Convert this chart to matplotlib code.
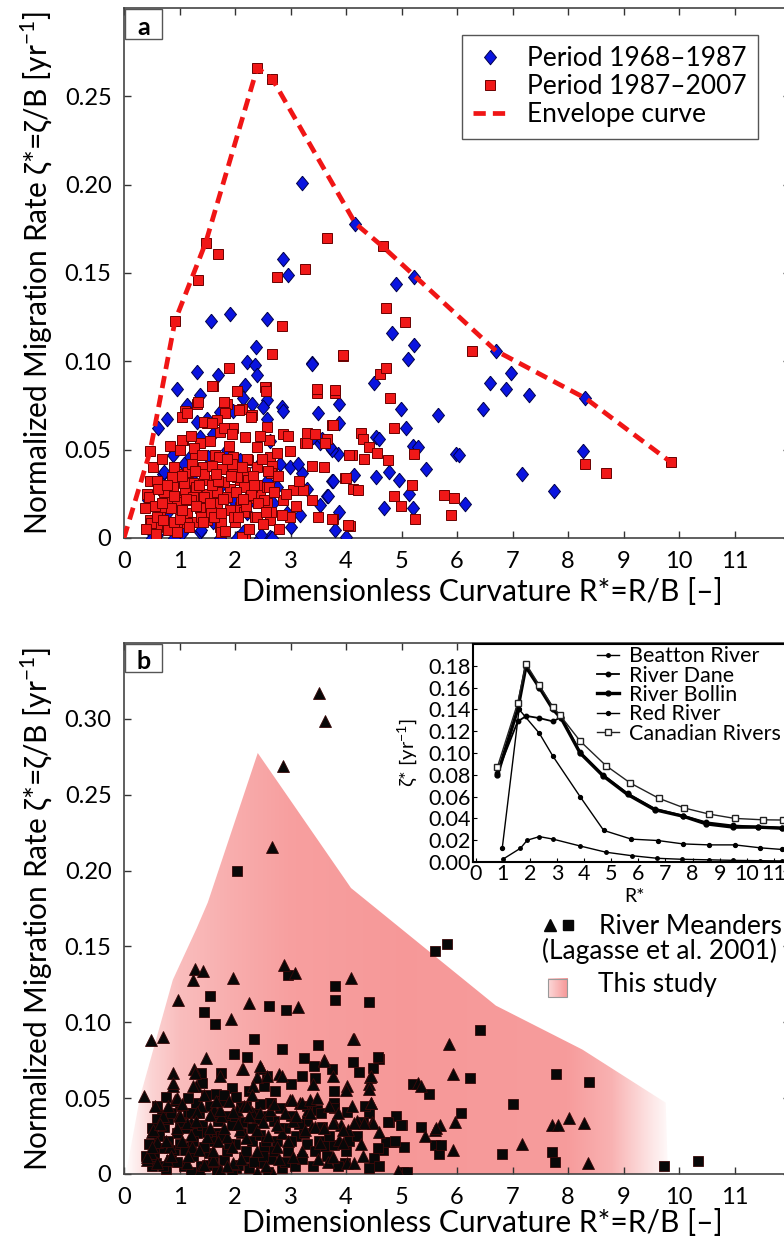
import numpy as np
import matplotlib.pyplot as plt
from matplotlib.patches import Polygon, Rectangle
from matplotlib.ticker import FixedLocator, FixedFormatter

plt.rcParams['font.family'] = ['Lato', 'DejaVu Sans']

# ---------------- panel a: migration rate vs curvature ----------------
# (R*, zeta*) pairs, period 1968-1987
period1_pts = np.array([
    [3.2, 0.201], [4.17, 0.178], [2.87, 0.158], [2.96, 0.149], [5.23, 0.148], [4.9, 0.144],
    [2.57, 0.124], [4.83, 0.116], [5.22, 0.109], [5.11, 0.1015], [3.38, 0.099], [4.51, 0.088],
    [3.88, 0.076], [3.5, 0.071], [2.84, 0.074], [4.99, 0.073], [5.65, 0.0695], [5.08, 0.0625],
    [3.88, 0.065], [4.54, 0.057], [5.2, 0.052], [5.29, 0.0516], [5.98, 0.0475], [5.44, 0.039],
    [4.54, 0.0346], [4.78, 0.0375], [4.96, 0.033], [4.15, 0.0356], [5.14, 0.025], [4.69, 0.017],
    [5.2, 0.017], [3.65, 0.024], [3.74, 0.032], [3.53, 0.0186], [3.88, 0.015], [3.8, 0.0045],
    [4.0, 0.0007], [2.63, 0.0007], [3.85, 0.0475], [3.53, 0.0535], [3.74, 0.050], [3.17, 0.013],
    [6.46, 0.073], [6.6, 0.088], [6.88, 0.0846], [6.97, 0.0936], [7.29, 0.081], [6.7, 0.106],
    [8.3, 0.079], [8.27, 0.049], [7.18, 0.036], [7.75, 0.0266], [6.03, 0.047], [6.15, 0.019],
    [4.6, 0.056],
    [1.56, 0.123], [1.91, 0.127], [2.37, 0.108], [2.21, 0.0996], [2.36, 0.0977], [2.39, 0.092],
    [1.7, 0.092], [1.31, 0.094], [0.95, 0.0846], [2.18, 0.0864], [1.37, 0.081], [2.57, 0.078],
    [2.5, 0.074], [2.86, 0.072], [0.77, 0.0676], [0.62, 0.062], [1.13, 0.075], [3.38, 0.0987],
    [0.86, 0.0507], [0.89, 0.047], [1.1, 0.041], [1.25, 0.0365], [1.37, 0.057], [1.61, 0.059],
    [1.97, 0.072], [2.15, 0.079], [2.3, 0.076], [2.57, 0.0676], [2.63, 0.055], [2.81, 0.042],
    [2.99, 0.040], [3.2, 0.0366], [3.13, 0.042], [3.4, 0.057], [3.56, 0.056], [3.71, 0.0516],
    [3.76, 0.032], [3.67, 0.024], [2.66, 0.0], [2.45, 0.0], [2.03, 0.0], [1.73, 0.0],
    [2.15, 0.0036], [0.5, 0.0027], [0.59, 0.0017], [1.04, 0.0027], [1.37, 0.0036], [0.71, 0.0365],
    [0.95, 0.032], [1.19, 0.046], [1.52, 0.046], [1.85, 0.050], [2.09, 0.044], [2.39, 0.040],
    [1.73, 0.029], [1.46, 0.0215], [1.97, 0.0215], [2.21, 0.014], [2.69, 0.0196], [2.75, 0.029],
    [2.93, 0.014], [1.1, 0.014], [0.77, 0.014], [0.44, 0.0215], [1.61, 0.0092], [2.33, 0.0215],
    [2.57, 0.032], [1.31, 0.0657], [1.49, 0.0676], [1.73, 0.0714], [0.72, 0.0375], [1.08, 0.042],
    [1.38, 0.0045], [2.46, 0.0017], [0.5, 0.0], [0.9, 0.0], [3.0, 0.0065], [3.3, 0.028],
])

# period 1987-2007
period2_pts = np.array([
    [2.4, 0.266], [2.67, 0.260], [1.47, 0.167], [1.7, 0.161], [1.34, 0.146], [2.75, 0.148],
    [3.26, 0.152], [3.65, 0.170], [4.66, 0.165], [0.92, 0.123], [0.47, 0.049], [2.84, 0.120],
    [2.66, 0.104], [3.94, 0.103], [4.72, 0.130], [5.07, 0.122], [4.62, 0.093], [4.72, 0.096],
    [4.8, 0.0795], [3.47, 0.082], [3.81, 0.082], [2.55, 0.0855], [3.75, 0.064], [4.87, 0.0625],
    [4.27, 0.0595], [4.3, 0.0558], [4.42, 0.0516], [4.56, 0.048], [4.75, 0.044], [5.22, 0.0475],
    [4.1, 0.047], [4.32, 0.045], [3.65, 0.0558], [3.3, 0.0595], [3.26, 0.0535], [3.38, 0.041],
    [3.99, 0.034], [4.12, 0.028], [5.19, 0.030], [4.87, 0.024], [4.99, 0.018], [5.25, 0.011],
    [3.76, 0.011], [4.08, 0.007], [5.77, 0.0245], [5.95, 0.0224], [5.89, 0.013], [6.27, 0.106],
    [8.3, 0.042], [8.68, 0.037], [9.85, 0.043], [4.21, 0.027], [4.03, 0.0073],
    [1.9, 0.096], [1.61, 0.086], [2.03, 0.083], [2.54, 0.0855], [2.55, 0.083], [1.31, 0.076],
    [1.1, 0.072], [1.04, 0.0685], [1.85, 0.076], [1.82, 0.071], [1.49, 0.065], [1.67, 0.0667],
    [1.97, 0.062], [2.12, 0.073], [2.3, 0.0695], [2.57, 0.063], [2.39, 0.0516], [2.18, 0.057],
    [1.73, 0.060], [1.37, 0.0535], [1.07, 0.0554], [1.01, 0.050], [1.28, 0.047], [1.64, 0.047],
    [1.97, 0.046], [2.24, 0.044], [2.63, 0.046], [2.66, 0.041], [2.87, 0.059], [2.96, 0.058],
    [2.99, 0.049], [3.29, 0.054], [3.44, 0.059], [3.47, 0.0846], [3.8, 0.0836], [3.95, 0.1034],
    [3.62, 0.0535], [3.76, 0.064], [4.06, 0.047], [4.0, 0.034], [3.74, 0.011], [3.38, 0.0215],
    [3.22, 0.027], [3.05, 0.027], [2.87, 0.0215], [2.99, 0.012], [2.84, 0.013], [2.57, 0.0196],
    [2.63, 0.010], [2.45, 0.025], [2.3, 0.029], [2.09, 0.033], [2.18, 0.0375], [1.97, 0.0365],
    [1.76, 0.039], [1.49, 0.033], [1.25, 0.031], [1.1, 0.027], [0.89, 0.029], [0.71, 0.027],
    [0.47, 0.032], [0.41, 0.025], [0.38, 0.017], [0.47, 0.010], [0.59, 0.0064], [0.8, 0.0045],
    [0.95, 0.0086], [1.13, 0.014], [1.37, 0.0168], [1.61, 0.0196], [1.91, 0.016], [2.09, 0.0177],
    [1.73, 0.0064], [1.49, 0.010], [1.25, 0.0092], [2.18, 0.0], [2.0, 0.0092], [2.36, 0.012],
    [0.65, 0.016], [0.77, 0.0215], [1.01, 0.0215], [1.25, 0.0233], [1.49, 0.025], [1.67, 0.026],
    [1.91, 0.028], [2.27, 0.0224], [2.57, 0.029], [2.24, 0.033], [1.43, 0.040], [1.16, 0.0375],
    [0.95, 0.0365], [1.59, 0.086], [2.04, 0.083], [1.33, 0.077], [1.14, 0.071], [1.8, 0.077],
    [2.07, 0.0727], [2.28, 0.0685], [1.44, 0.0657], [1.59, 0.065], [1.8, 0.062], [1.95, 0.059],
    [2.61, 0.0554], [1.05, 0.0554], [1.26, 0.0507], [1.41, 0.047], [1.71, 0.046], [1.95, 0.042],
    [2.22, 0.045], [2.4, 0.040], [2.64, 0.0366], [0.6, 0.0324], [0.87, 0.0346], [1.08, 0.031],
    [1.29, 0.029], [1.59, 0.030], [1.8, 0.0318], [2.04, 0.0346], [2.16, 0.029], [2.4, 0.030],
    [2.61, 0.029], [0.45, 0.0233], [0.72, 0.026], [0.66, 0.0177], [0.96, 0.0205], [1.2, 0.0215],
    [1.44, 0.0233], [1.68, 0.0196], [1.86, 0.0233], [2.1, 0.0215], [2.28, 0.0243], [2.52, 0.0215],
    [0.48, 0.0083], [0.6, 0.012], [0.9, 0.0092], [1.14, 0.0083], [1.38, 0.012], [1.56, 0.0149],
    [1.74, 0.0092], [1.98, 0.012], [2.16, 0.0149], [2.4, 0.012], [2.64, 0.015], [1.74, 0.0036],
    [0.96, 0.0036], [2.13, 0.0007],
    [0.55, 0.018], [0.62, 0.028], [0.7, 0.010], [0.78, 0.030], [0.85, 0.017], [0.9, 0.040],
    [1.0, 0.011], [1.05, 0.035], [1.12, 0.022], [1.18, 0.006], [1.22, 0.042], [1.3, 0.018],
    [1.35, 0.030], [1.42, 0.009], [1.45, 0.036], [1.55, 0.020], [1.58, 0.041], [1.63, 0.012],
    [1.7, 0.032], [1.78, 0.022], [1.82, 0.004], [1.85, 0.045], [1.92, 0.035], [2.02, 0.026],
    [2.05, 0.012], [2.12, 0.040], [2.2, 0.018], [2.25, 0.005], [2.32, 0.035], [2.42, 0.020],
    [2.48, 0.045], [2.5, 0.008], [2.6, 0.038], [2.7, 0.026], [2.78, 0.035], [2.8, 0.005],
    [2.92, 0.025], [3.1, 0.018], [3.15, 0.032], [0.52, 0.040], [0.68, 0.045], [0.82, 0.052],
    [1.2, 0.058], [1.55, 0.055], [1.9, 0.052], [2.45, 0.058], [0.58, 0.002], [0.68, 0.020],
    [1.05, 0.016], [1.65, 0.036], [2.15, 0.022], [2.55, 0.015], [3.5, 0.012], [3.6, 0.040],
    [0.4, 0.005], [0.9, 0.024], [1.28, 0.038], [1.75, 0.014], [2.35, 0.030], [2.75, 0.048],
])

envelope_x = [0, 0.47, 0.92, 1.47, 2.4, 2.67, 4.17, 4.66, 6.7, 8.32, 9.85]
envelope_y = [0, 0.049, 0.123, 0.167, 0.266, 0.260, 0.178, 0.165, 0.106, 0.079, 0.043]

# ---------------- panel b: comparison with Lagasse et al. (2001) ----------------
lagasse_tri = np.array([
    [3.51, 0.317], [3.63, 0.2985], [2.87, 0.2687], [2.66, 0.2157],
    [5.85, 0.086], [5.92, 0.066], [5.29, 0.060], [5.35, 0.058], [5.7, 0.0325], [5.97, 0.034],
    [5.61, 0.029], [5.43, 0.025], [5.92, 0.016], [7.17, 0.020], [7.71, 0.0325], [7.82, 0.0325],
    [8.01, 0.037], [8.28, 0.0336], [8.36, 0.007], [4.93, 0.002],
    [2.88, 0.1377], [3.09, 0.1325], [4.09, 0.129], [3.14, 0.110], [4.14, 0.089], [3.61, 0.075],
    [2.79, 0.0656], [4.44, 0.064], [4.42, 0.059], [4.02, 0.058], [3.4, 0.059], [4.45, 0.047],
    [2.99, 0.0485], [3.18, 0.047], [3.31, 0.042], [4.47, 0.034], [4.19, 0.035], [3.79, 0.034],
    [3.91, 0.032], [3.38, 0.031], [4.03, 0.029], [3.88, 0.0225], [4.27, 0.020], [5.62, 0.030],
    [3.67, 0.008], [4.02, 0.0075],
    [1.28, 0.135], [1.43, 0.134], [1.24, 0.128], [1.96, 0.129], [0.97, 0.115], [2.26, 0.113],
    [1.93, 0.102], [0.48, 0.088], [0.7, 0.0905], [1.48, 0.0766], [0.36, 0.0517], [0.89, 0.0667],
    [0.89, 0.058], [0.92, 0.049], [1.26, 0.069], [1.29, 0.058], [2.13, 0.069], [2.46, 0.070],
    [2.4, 0.064], [0.51, 0.028], [0.99, 0.039], [1.38, 0.0446], [1.62, 0.042], [1.74, 0.038],
    [2.04, 0.042], [2.16, 0.0446], [2.31, 0.041], [1.2, 0.034], [0.6, 0.021], [0.48, 0.014],
    [0.42, 0.009], [0.89, 0.060], [0.95, 0.050], [1.28, 0.0667], [1.25, 0.058], [1.73, 0.0644],
    [2.15, 0.069], [2.45, 0.071], [2.57, 0.0644], [2.33, 0.058], [2.84, 0.0644], [3.02, 0.049],
    [3.2, 0.0468], [3.35, 0.049], [3.47, 0.050], [3.61, 0.0744], [3.76, 0.0644], [4.0, 0.0556],
    [4.12, 0.0887], [4.45, 0.0644], [4.42, 0.056], [4.45, 0.0468], [4.48, 0.0336], [4.33, 0.0336],
    [4.15, 0.0336], [3.76, 0.0336], [3.94, 0.029], [3.44, 0.031], [3.26, 0.029], [3.05, 0.0347],
    [2.84, 0.027], [2.63, 0.0424], [2.45, 0.040], [2.21, 0.0446], [1.97, 0.041], [1.73, 0.042],
    [1.55, 0.039], [1.31, 0.041], [1.13, 0.0336], [1.01, 0.038], [0.71, 0.038], [0.53, 0.029],
    [0.41, 0.0115], [0.5, 0.018], [0.83, 0.018], [1.22, 0.018], [1.49, 0.0247], [1.85, 0.0247],
    [2.09, 0.029], [2.39, 0.029], [2.75, 0.018], [3.05, 0.0115], [3.53, 0.0203], [3.76, 0.0115],
    [3.94, 0.0203], [4.15, 0.0071], [2.69, 0.0], [1.37, 0.0026], [1.73, 0.0026], [2.39, 0.0015],
    [1.97, 0.0071], [1.61, 0.0093], [1.13, 0.0071], [0.77, 0.009], [0.59, 0.0071],
    [0.55, 0.045], [0.65, 0.033], [0.75, 0.022], [0.8, 0.045], [0.85, 0.012], [0.95, 0.030],
    [1.05, 0.022], [1.05, 0.046], [1.15, 0.012], [1.2, 0.026], [1.3, 0.035], [1.35, 0.016],
    [1.45, 0.006], [1.45, 0.052], [1.55, 0.030], [1.6, 0.015], [1.65, 0.048], [1.7, 0.022],
    [1.8, 0.030], [1.85, 0.005], [1.9, 0.048], [1.95, 0.018], [2.05, 0.033], [2.1, 0.010],
    [2.2, 0.024], [2.25, 0.038], [2.3, 0.052], [2.4, 0.015], [2.5, 0.034], [2.55, 0.005],
    [2.6, 0.025], [2.7, 0.046], [2.75, 0.032], [2.8, 0.010], [2.9, 0.040], [2.95, 0.022],
    [3.1, 0.038], [3.2, 0.015], [3.35, 0.040], [3.5, 0.010], [3.6, 0.030], [3.7, 0.045],
    [3.85, 0.040], [4.1, 0.045], [4.3, 0.012], [4.6, 0.028],
])

lagasse_sq = np.array([
    [2.04, 0.1998], [5.61, 0.147], [5.82, 0.1517], [6.42, 0.095], [6.24, 0.063], [7.78, 0.066],
    [8.38, 0.0607], [7.0, 0.0464], [6.07, 0.040], [5.49, 0.0528], [5.2, 0.059], [4.6, 0.0755],
    [4.77, 0.034], [4.9, 0.0384], [5.01, 0.032], [5.35, 0.031], [5.61, 0.0192], [5.68, 0.0132],
    [5.05, 0.0177], [4.81, 0.0214], [4.86, 0.0214], [4.66, 0.016], [6.81, 0.0132], [7.71, 0.0148],
    [7.77, 0.0077], [9.73, 0.0053], [10.35, 0.0086], [5.02, 0.0015], [5.1, 0.0015],
    [2.96, 0.131], [3.81, 0.1236], [3.81, 0.1146], [4.41, 0.1135], [2.61, 0.111], [2.91, 0.108],
    [2.84, 0.0826], [3.49, 0.085], [3.24, 0.0766], [3.42, 0.071], [3.75, 0.069], [4.12, 0.074],
    [4.24, 0.067], [4.57, 0.077], [4.48, 0.070], [3.2, 0.0644], [3.0, 0.0596], [3.44, 0.0634],
    [3.78, 0.0545], [3.78, 0.0468], [3.78, 0.0437], [4.02, 0.0406], [4.42, 0.040], [2.72, 0.0545],
    [2.63, 0.0468], [2.81, 0.0435], [3.48, 0.042], [3.56, 0.031], [4.3, 0.034], [4.75, 0.034],
    [4.99, 0.032], [4.05, 0.022], [3.51, 0.022], [3.61, 0.0185], [3.79, 0.019], [4.72, 0.0214],
    [4.89, 0.022], [4.57, 0.017], [4.51, 0.0104], [4.42, 0.0038], [3.65, 0.012], [3.99, 0.007],
    [3.08, 0.0053], [5.71, 0.019],
    [1.55, 0.1174], [1.44, 0.107], [1.64, 0.099], [2.34, 0.0887], [1.98, 0.079], [2.22, 0.077],
    [1.74, 0.0667], [2.58, 0.0644], [1.38, 0.0667], [1.41, 0.060], [0.75, 0.051], [0.6, 0.0446],
    [0.69, 0.039], [1.47, 0.052], [1.65, 0.053], [1.95, 0.057], [2.01, 0.051], [2.25, 0.0545],
    [2.52, 0.058], [2.64, 0.047], [0.72, 0.031], [0.63, 0.025], [0.66, 0.017], [0.54, 0.014],
    [0.57, 0.007], [0.9, 0.016], [1.2, 0.018], [1.53, 0.014], [1.38, 0.005], [1.8, 0.009],
    [2.16, 0.0115], [2.46, 0.007], [2.52, 0.018], [2.1, 0.027], [1.68, 0.027], [1.32, 0.027],
    [0.96, 0.027], [1.86, 0.038], [2.4, 0.036], [0.84, 0.009], [1.08, 0.005], [1.68, 0.0026],
    [2.01, 0.0038],
    [1.0, 0.045], [1.15, 0.040], [1.3, 0.047], [1.55, 0.045], [1.75, 0.048], [2.2, 0.045],
    [2.35, 0.040], [2.7, 0.035], [2.9, 0.030], [3.1, 0.025], [3.3, 0.020], [2.95, 0.015],
    [2.65, 0.010], [2.3, 0.022], [2.0, 0.020], [1.85, 0.015], [1.6, 0.022], [1.4, 0.032],
    [1.1, 0.030], [0.8, 0.036], [0.45, 0.020], [0.5, 0.005], [0.75, 0.003], [1.2, 0.001],
    [1.5, 0.006], [1.95, 0.002], [2.25, 0.004], [2.6, 0.001], [2.85, 0.004], [3.2, 0.010],
    [3.4, 0.005], [3.0, 0.038], [3.3, 0.035], [1.25, 0.012], [1.0, 0.020], [1.7, 0.035],
    [2.15, 0.034], [2.45, 0.026], [2.75, 0.022], [3.25, 0.027],
    [0.6, 0.036], [0.7, 0.005], [0.8, 0.022], [0.85, 0.040], [0.95, 0.008], [1.0, 0.034],
    [1.1, 0.016], [1.15, 0.050], [1.25, 0.022], [1.35, 0.040], [1.45, 0.018], [1.5, 0.028],
    [1.6, 0.008], [1.65, 0.040], [1.75, 0.025], [1.8, 0.052], [1.9, 0.020], [1.95, 0.032],
    [2.05, 0.006], [2.1, 0.044], [2.2, 0.015], [2.3, 0.030], [2.35, 0.008], [2.45, 0.046],
    [2.55, 0.022], [2.6, 0.038], [2.7, 0.015], [2.8, 0.030], [2.9, 0.008], [3.0, 0.022],
    [3.15, 0.033], [3.3, 0.045], [3.45, 0.015], [3.55, 0.040], [3.7, 0.025], [3.85, 0.005],
    [4.0, 0.015], [4.2, 0.025], [4.35, 0.045], [4.6, 0.005], [0.5, 0.030], [0.4, 0.012],
    [1.2, 0.040], [2.0, 0.038], [2.5, 0.012],
])

# outline of this study's data range
study_x = [0, 0.07, 0.29, 0.88, 1.31, 1.51, 2.41, 4.09, 6.7, 8.26, 9.76, 9.8]
study_y = [0, 0.007, 0.051, 0.128, 0.162, 0.179, 0.2775, 0.1885, 0.111, 0.082, 0.047, 0.0]

# inset: published zeta*(R*) curves
beatton_x = [1.0, 1.65, 1.9, 2.35, 2.85, 3.85, 4.8, 5.75, 6.7, 7.6, 8.6, 9.5, 10.5, 11.3, 12.0]
beatton_y = [0.0025, 0.0126, 0.020, 0.0233, 0.021, 0.0147, 0.009, 0.0058, 0.0034, 0.0025,
             0.002, 0.0015, 0.0012, 0.001, 0.001]
dane_x = [0.8, 1.55, 1.87, 2.35, 2.85, 3.15, 3.85, 4.7, 5.6, 6.6, 7.65, 8.5, 9.5, 10.4, 11.3, 12.0]
dane_y = [0.082, 0.129, 0.134, 0.132, 0.129, 0.133, 0.101, 0.080, 0.063, 0.049, 0.0425, 0.0365,
          0.0335, 0.0325, 0.0315, 0.031]
bollin_x = [0.8, 1.55, 1.85, 2.35, 2.85, 3.15, 3.85, 4.7, 5.6, 6.6, 7.65, 8.5, 9.5, 10.4, 11.3, 12.0]
bollin_y = [0.080, 0.140, 0.179, 0.160, 0.140, 0.132, 0.100, 0.079, 0.062, 0.048, 0.042, 0.035,
            0.032, 0.032, 0.031, 0.030]
red_x = [0.98, 1.6, 2.35, 2.85, 3.85, 4.72, 5.74, 6.72, 7.65, 8.6, 9.56, 10.5, 11.3, 12.0]
red_y = [0.013, 0.140, 0.118, 0.097, 0.060, 0.029, 0.021, 0.0197, 0.0166, 0.0157, 0.0157,
         0.013, 0.0115, 0.010]
canadian_x = [0.8, 1.55, 1.85, 2.35, 2.85, 3.1, 3.85, 4.8, 5.7, 6.75, 7.7, 8.6, 9.55, 10.6, 11.35, 12.0]
canadian_y = [0.087, 0.146, 0.182, 0.162, 0.142, 0.135, 0.111, 0.0885, 0.0725, 0.0585, 0.0495,
              0.044, 0.040, 0.0387, 0.0385, 0.0385]

x_ticks = list(range(0, 12))
a_yticks = [0, 0.05, 0.10, 0.15, 0.20, 0.25]
a_ylabels = ['0', '0.05', '0.10', '0.15', '0.20', '0.25']
b_yticks = [0, 0.05, 0.10, 0.15, 0.20, 0.25, 0.30]
b_ylabels = ['0', '0.05', '0.10', '0.15', '0.20', '0.25', '0.30']

xlabel = 'Dimensionless Curvature R*=R/B [\u2013]'
ylabel = 'Normalized Migration Rate \u03b6*=\u03b6/B [yr$^{-1}$]'

plt.rcParams['mathtext.fontset'] = 'custom'
plt.rcParams['mathtext.rm'] = 'Lato'

W, H = 784, 1245
fig = plt.figure(figsize=(W / 100, H / 100), dpi=100)


def px_axes(left, top, right, bottom):
    return fig.add_axes([left / W, 1 - bottom / H, (right - left) / W, (bottom - top) / H])


def style_main(ax, yt, yl):
    ax.set_xlim(0, 12)
    ax.xaxis.set_major_locator(FixedLocator(x_ticks))
    ax.yaxis.set_major_locator(FixedLocator(yt))
    ax.yaxis.set_major_formatter(FixedFormatter(yl))
    ax.tick_params(direction='in', length=5, width=1, top=True, right=True,
                   labelsize=17, pad=9, color='#333333')
    for s in ax.spines.values():
        s.set_color('#444444')
        s.set_linewidth(1.2)
    ax.set_xlabel(xlabel, fontsize=21.5, labelpad=4)
    ax.xaxis.set_label_coords(0.5375, -0.075)
    ax.set_ylabel(ylabel, fontsize=21.5, labelpad=7)


def panel_tag(ax, letter, h):
    ax.add_patch(Rectangle((0.0015, 1 - h - 0.002), 0.0556, h, transform=ax.transAxes,
                           facecolor='white', edgecolor='#555555', lw=1.0, zorder=6))
    ax.text(0.0293, 1 - h / 2 - 0.008, letter, transform=ax.transAxes, ha='center', va='center',
            fontsize=18, fontweight='bold', zorder=7)


diamond = [(0, 1), (0.82, 0), (0, -1), (-0.82, 0), (0, 1)]

# ---- panel a ----
ax_a = px_axes(124, 8, 790, 538)
ax_a.plot(period1_pts[:, 0], period1_pts[:, 1], linestyle='none', marker=diamond, ms=10.5,
          mfc='#0a14e0', mec='#00004a', mew=0.7, label='Period 1968\u20131987', zorder=3)
ax_a.plot(period2_pts[:, 0], period2_pts[:, 1], linestyle='none', marker='s', ms=7.8,
          mfc='#f01818', mec='#6a0000', mew=0.7, label='Period 1987\u20132007', zorder=4)
ax_a.plot(envelope_x, envelope_y, color='#f01515', lw=3.4, linestyle=(0, (2.6, 1.5)),
          label='Envelope curve', zorder=5)
ax_a.set_ylim(0, 0.30)
style_main(ax_a, a_yticks, a_ylabels)
leg = ax_a.legend(loc='upper right', bbox_to_anchor=(0.952, 0.949), fontsize=19,
                  frameon=True, fancybox=False, edgecolor='#555555', framealpha=1,
                  labelspacing=0.12, handlelength=1.3, handletextpad=0.75, borderpad=0.42,
                  borderaxespad=0)
leg.get_frame().set_linewidth(1.0)
panel_tag(ax_a, 'a', 0.0566)

# ---- panel b ----
ax_b = px_axes(124, 643, 790, 1174)
ngrad = 400
gx = np.linspace(0, 10, ngrad)
galpha = np.interp(gx, [0, 0.5, 1.0, 2.0, 3.0, 5.0, 8.0, 8.8, 9.4, 9.9],
                   [0, 0.4, 0.6, 0.75, 0.87, 0.93, 0.9, 0.7, 0.3, 0])
base = np.array([246, 145, 145]) / 255.0
grad = np.ones((1, ngrad, 3))
grad[0] = 1 - galpha[:, None] * (1 - base)
im = ax_b.imshow(grad, extent=[0, 10, 0, 0.3], aspect='auto', origin='lower', zorder=1,
                 interpolation='bilinear')
clip = Polygon(np.column_stack([study_x, study_y]), closed=True, facecolor='none',
               edgecolor='none', transform=ax_b.transData)
ax_b.add_patch(clip)
im.set_clip_path(clip)

ax_b.plot(lagasse_sq[:, 0], lagasse_sq[:, 1], linestyle='none', marker='s', ms=6.8,
          mfc='#080808', mec='#3a0808', mew=0.6, zorder=3)
ax_b.plot(lagasse_tri[:, 0], lagasse_tri[:, 1], linestyle='none', marker='^', ms=8.2,
          mfc='#080808', mec='#3a0808', mew=0.6, zorder=3)
ax_b.set_ylim(0, 0.35)
style_main(ax_b, b_yticks, b_ylabels)
ax_b.xaxis.set_label_coords(0.5375, -0.065)
panel_tag(ax_b, 'b', 0.0527)

# legend entries of panel b
ax_b.plot([0.6396], [0.469], transform=ax_b.transAxes, marker='^', ms=8, color='#080808',
          linestyle='none', clip_on=False, zorder=6)
ax_b.plot([0.6667], [0.469], transform=ax_b.transAxes, marker='s', ms=6.6, color='#080808',
          linestyle='none', clip_on=False, zorder=6)
ax_b.text(0.713, 0.467, 'River Meanders', transform=ax_b.transAxes, fontsize=19,
          va='center', ha='left')
ax_b.text(0.627, 0.421, '(Lagasse et al. 2001)', transform=ax_b.transAxes, fontsize=19,
          va='center', ha='left')
ax_b.text(0.712, 0.356, 'This study', transform=ax_b.transAxes, fontsize=19,
          va='center', ha='left')
lg = np.ones((1, 50, 3))
lg[0] = 1 - np.linspace(0.35, 0.95, 50)[:, None] * (1 - base)
ax_b.imshow(lg, extent=[0.6366, 0.6652, 0.3333, 0.3672], transform=ax_b.transAxes,
            aspect='auto', zorder=6)
ax_b.add_patch(Rectangle((0.6366, 0.3333), 0.0286, 0.0339, transform=ax_b.transAxes,
                         facecolor='none', edgecolor='#999999', lw=0.8, zorder=7))
ax_b.set_xlim(0, 12)
ax_b.set_ylim(0, 0.35)

# ---- inset ----
ax_in = px_axes(473, 644, 801, 862)
ax_in.plot(beatton_x, beatton_y, color='k', lw=1.0, marker='o', ms=2.5, label='Beatton River')
ax_in.plot(dane_x, dane_y, color='k', lw=1.3, marker='o', ms=3.2, label='River Dane')
ax_in.plot(bollin_x, bollin_y, color='k', lw=2.4, marker='o', ms=3.5, label='River Bollin')
ax_in.plot(red_x, red_y, color='k', lw=1.0, marker='o', ms=2.8, label='Red River')
ax_in.plot(canadian_x, canadian_y, color='#222222', lw=1.0, marker='s', ms=3.8, mfc='white',
           mec='#222222', label='Canadian Rivers')
ax_in.set_xlim(-0.1, 12)
ax_in.set_ylim(0, 0.2)
ax_in.set_xticks(x_ticks)
ax_in.set_yticks(np.arange(0, 0.19, 0.02))
ax_in.set_yticklabels(['%.2f' % v for v in np.arange(0, 0.19, 0.02)])
ax_in.tick_params(direction='in', length=3, width=0.8, labelsize=15.5, pad=1.5)
for s in ax_in.spines.values():
    s.set_linewidth(1.5)
ax_in.set_xlabel('R*', fontsize=14, labelpad=-2)
ax_in.xaxis.set_label_coords(0.493, -0.12)
ax_in.set_ylabel('\u03b6* [yr$^{-1}$]', fontsize=14.5, labelpad=6)
ax_in.legend(loc='upper left', bbox_to_anchor=(0.378, 0.99), fontsize=15.5, frameon=False,
             labelspacing=-0.03, handlelength=1.0, handletextpad=0.5, borderpad=0,
             borderaxespad=0)

fig.savefig('out.png', dpi=100)
